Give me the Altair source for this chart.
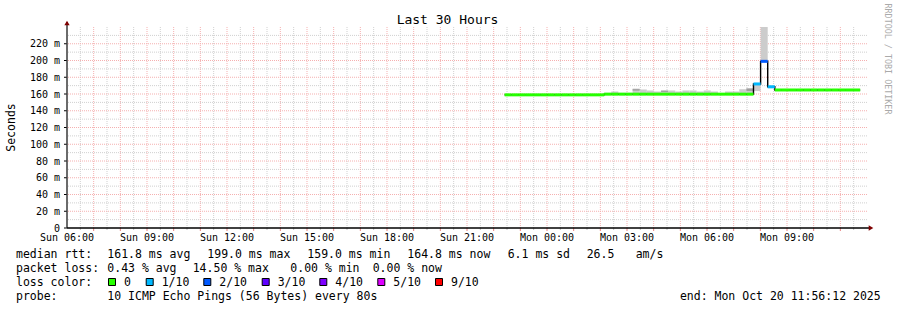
import altair as alt
import pandas as pd

# ---------------- values ----------------
START_H = 16.41            # start of first 16-minute interval (hours after Sun 06:00)
STEP_H = 960 / 3600        # consolidation step: 16 minutes

MEDIAN_MS = [
    159.0, 159.0, 159.0, 159.0, 159.0, 159.0, 159.0, 159.0, 159.0, 159.0,
    159.0, 159.0, 159.0, 159.0,
    159.8, 159.8, 159.8, 159.8, 159.8, 159.8, 159.8, 159.8, 159.8, 159.8,
    159.8, 159.8, 159.8, 159.8, 159.8, 159.8, 159.8, 159.8, 159.8, 159.8,
    159.8,
    172.0, 199.0, 168.6,
    164.8, 164.8, 164.8, 164.8, 164.8, 164.8, 164.8, 164.8, 164.8, 164.8,
    164.8, 164.8,
]
LOSS_IDX = [
    0, 0, 0, 0, 0, 0, 0, 0, 0, 0, 0, 0, 0, 0,
    0, 0, 0, 0, 0, 0, 0, 0, 0, 0, 0, 0, 0, 0, 0, 0, 0, 0, 0, 0, 0,
    1, 2, 1,
    0, 0, 0, 0, 0, 0, 0, 0, 0, 0, 0, 0,
]
SMOKE_LO = [
    158.5, 158.5, 158.5, 158.5, 158.5, 158.5, 158.5, 158.5, 158.5, 158.5,
    158.5, 158.5, 158.5, 158.5,
    159.0, 159.0, 159.0, 159.0, 159.0, 159.0, 159.0, 159.0, 159.0, 159.0,
    159.0, 159.0, 159.0, 159.0, 159.0, 159.0, 159.0, 159.0, 159.0, 159.0,
    159.0,
    163.5, 199.0, 167.0,
    164.0, 164.0, 164.0, 164.0, 164.0, 164.0, 164.0, 164.0, 164.0, 164.0,
    164.0, 164.0,
]
SMOKE_HI = [
    159.0, 159.0, 159.0, 159.0, 159.0, 159.0, 159.0, 159.0, 159.0, 159.0,
    159.0, 159.0, 159.0, 159.0,
    161.4, 163.0, 161.4, 161.4, 166.5, 165.4, 164.2, 163.0, 164.2, 164.2,
    163.0, 164.2, 164.2, 163.0, 164.2, 163.0, 160.5, 163.0, 163.0, 165.7,
    166.9,
    172.0, 250.0, 170.0,
    164.8, 164.8, 164.8, 164.8, 164.8, 164.8, 164.8, 164.8, 164.8, 164.8,
    164.8, 164.8,
]
# darker (denser) smoke band: interval index, low, high
DARK_IDX = [18, 22, 34]
DARK_LO = [164.0, 162.5, 163.5]
DARK_HI = [165.8, 164.0, 166.5]

LOSS_LABELS = ["0", "1/10", "2/10", "3/10", "4/10", "5/10", "9/10"]
LOSS_COLORS = ["#26ff00", "#00b8ff", "#0059ff", "#5e00ff", "#7e00ff", "#dd00ff", "#ff0000"]

TICK_HOURS = [0, 3, 6, 9, 12, 15, 18, 21, 24, 27]
TICK_LABELS = ["Sun 06:00", "Sun 09:00", "Sun 12:00", "Sun 15:00", "Sun 18:00",
               "Sun 21:00", "Mon 00:00", "Mon 03:00", "Mon 06:00", "Mon 09:00"]
Y_TICKS = [0, 20, 40, 60, 80, 100, 120, 140, 160, 180, 200, 220]
Y_LABELS = ["0\u00a0\u00a0", "20 m", "40 m", "60 m", "80 m", "100 m", "120 m",
            "140 m", "160 m", "180 m", "200 m", "220 m"]
Y_MINOR = [10, 30, 50, 70, 90, 110, 130, 150, 170, 190, 210, 230]
X_MAJOR = list(range(1, 30))
X_MINOR = [h + 0.5 for h in range(30)]

TITLE = "Last 30 Hours"
ROW1 = ["median rtt:", "161.8 ms avg", "199.0 ms max", "159.0 ms min",
        "164.8 ms now", "6.1 ms sd", "26.5", "am/s"]
ROW2 = ["packet loss:", "0.43 % avg", "14.50 % max", "0.00 % min", "0.00 % now"]
ROW3 = "loss color:"
ROW4 = ["probe:", "10 ICMP Echo Pings (56 Bytes) every 80s"]
END_TEXT = "end: Mon Oct 20 11:56:12 2025"
WATERMARK = "RRDTOOL / TOBI OETIKER"

# ---------------- layout (pixels) ----------------
W, H = 800, 201
PL, PT = 67, 27
ROW1_X = [16, 107.3, 207.3, 307.3, 407.3, 507.7, 586.7, 635.7]
ROW2_X = [16, 107.3, 192.7, 290.3, 372.7]
SQ_X = [108, 145.7, 203.3, 261.7, 319.3, 377.3, 435]
ROW_Y = [257.5, 271.5, 285.5, 299.5]
FONT = "DejaVu Sans Mono"
GRID_GRAY = "#d0d0d0"
GRID_RED = "#f5b0b0"

# ---------------- tables ----------------
n = len(MEDIAN_MS)
t0 = [START_H + k * STEP_H for k in range(n)]
t1 = [t + STEP_H for t in t0]
df = pd.DataFrame({
    "t0": t0, "t1": t1, "median": MEDIAN_MS,
    "lo": SMOKE_LO, "hi": SMOKE_HI,
    "color": [LOSS_COLORS[i] for i in LOSS_IDX],
})
dark = pd.DataFrame({
    "t0": [t0[i] for i in DARK_IDX], "t1": [t1[i] for i in DARK_IDX],
    "lo": DARK_LO, "hi": DARK_HI,
})
step = pd.DataFrame({"t": t0 + [t1[-1]], "median": MEDIAN_MS + [MEDIAN_MS[-1]]})
xlab = pd.DataFrame({"h": TICK_HOURS, "label": TICK_LABELS})
ylab = pd.DataFrame({"v": Y_TICKS, "label": Y_LABELS})

xs = alt.Scale(domain=[0, 30], nice=False, zero=False)
ys = alt.Scale(domain=[0, 240], nice=False, zero=False)

one = alt.Data(values=[{}])


def X(f):
    return alt.X(f, scale=xs, axis=None)


def Y(f):
    return alt.Y(f, scale=ys, axis=None)


def deco_text(s, x, y, size=11.5, align="left", baseline="alphabetic", angle=0, color="black"):
    return alt.Chart(one).mark_text(
        text=s, font=FONT, fontSize=size, align=align, baseline=baseline,
        angle=angle, color=color
    ).encode(x=alt.value(x - PL), y=alt.value(y - PT))


# grid
gmin_v = alt.Chart(pd.DataFrame({"h": X_MINOR})).mark_rule(
    color=GRID_GRAY, strokeDash=[1, 1], strokeWidth=1).encode(x=X("h:Q"))
gmin_h = alt.Chart(pd.DataFrame({"v": Y_MINOR})).mark_rule(
    color=GRID_GRAY, strokeDash=[1, 1], strokeWidth=1).encode(y=Y("v:Q"))
gmaj_v = alt.Chart(pd.DataFrame({"h": X_MAJOR})).mark_rule(
    color=GRID_RED, strokeDash=[1, 1], strokeWidth=1).encode(x=X("h:Q"))
gmaj_h = alt.Chart(pd.DataFrame({"v": Y_TICKS[1:]})).mark_rule(
    color=GRID_RED, strokeDash=[1, 1], strokeWidth=1).encode(y=Y("v:Q"))

# small ticks below x axis and left of y axis
tick_maj = alt.Chart(pd.DataFrame({"h": X_MAJOR})).mark_rule(color="#e88080").encode(
    x=X("h:Q"), y=alt.value(H), y2=alt.value(H + 3))
tick_min = alt.Chart(pd.DataFrame({"h": X_MINOR})).mark_rule(color="#c0c0c0").encode(
    x=X("h:Q"), y=alt.value(H), y2=alt.value(H + 2))
tick_y = alt.Chart(ylab).mark_rule(color="black").encode(
    y=Y("v:Q"), x=alt.value(-3), x2=alt.value(0))

# axis labels through the scales
xlabels = alt.Chart(xlab).mark_text(font=FONT, fontSize=10, align="center",
                                    baseline="alphabetic", color="black").encode(
    x=X("h:Q"), y=alt.value(241 - PT), text="label:N")
ylabels = alt.Chart(ylab).mark_text(font=FONT, fontSize=10, align="right",
                                    baseline="alphabetic", dy=3.6, color="black").encode(
    y=Y("v:Q"), x=alt.value(60 - PL), text="label:N")

# smoke
smoke = alt.Chart(df).mark_rect(color="#cccccc", clip=True).encode(
    x=X("t0:Q"), x2="t1:Q", y=Y("lo:Q"), y2="hi:Q")
smoke_dark = alt.Chart(dark).mark_rect(color="#9e9e9e", clip=True).encode(
    x=X("t0:Q"), x2="t1:Q", y=Y("lo:Q"), y2="hi:Q")

# median
med_line = alt.Chart(step).mark_line(interpolate="step-after", color="black", strokeWidth=1.4).encode(
    x=X("t:Q"), y=Y("median:Q"))
med_seg = alt.Chart(df).mark_rule(strokeWidth=3).encode(
    x=X("t0:Q"), x2="t1:Q", y=Y("median:Q"), color=alt.Color("color:N", scale=None))

# axis lines + arrows
y_line = alt.Chart(one).mark_rule(color="#3a3a3a", strokeWidth=1.5).encode(
    x=alt.value(0), y=alt.value(-5), y2=alt.value(H))
x_line = alt.Chart(one).mark_rule(color="black", strokeWidth=1.3).encode(
    x=alt.value(0), x2=alt.value(W + 2), y=alt.value(H))
y_arrow = alt.Chart(one).mark_point(shape="triangle-up", filled=True, size=28, color="#7f0000", opacity=1).encode(
    x=alt.value(0), y=alt.value(-4))
x_arrow = alt.Chart(one).mark_point(shape="triangle-right", filled=True, size=28, color="#7f0000", opacity=1).encode(
    x=alt.value(W + 4), y=alt.value(H))

layers = [gmin_v, gmin_h, gmaj_v, gmaj_h, tick_min, tick_maj, tick_y, smoke, smoke_dark,
          med_line, med_seg, y_line, x_line, y_arrow, x_arrow, xlabels, ylabels]

# texts
layers.append(deco_text(TITLE, 447.5, 24, size=13, align="center"))
layers.append(deco_text("Seconds", 11.5, 127.5, align="center", baseline="middle", angle=270))
layers.append(deco_text(WATERMARK, 888, 59, size=8.4, align="center", baseline="middle",
                        angle=90, color="#aaaaaa"))
for s, x in zip(ROW1, ROW1_X):
    layers.append(deco_text(s, x, ROW_Y[0]))
for s, x in zip(ROW2, ROW2_X):
    layers.append(deco_text(s, x, ROW_Y[1]))
layers.append(deco_text(ROW3, 16, ROW_Y[2]))
for lab, col, x in zip(LOSS_LABELS, LOSS_COLORS, SQ_X):
    layers.append(alt.Chart(one).mark_rect(color=col, stroke="black", strokeWidth=1).encode(
        x=alt.value(x + 0.5 - PL), x2=alt.value(x + 7.5 - PL),
        y=alt.value(278.5 - PT), y2=alt.value(285.5 - PT)))
    layers.append(deco_text(lab, x + 16, ROW_Y[2]))
layers.append(deco_text(ROW4[0], 16, ROW_Y[3]))
layers.append(deco_text(ROW4[1], 107.3, ROW_Y[3]))
layers.append(deco_text(END_TEXT, 880.7, ROW_Y[3], align="right"))

chart = alt.layer(*layers).properties(
    width=W, height=H,
    autosize=alt.AutoSizeParams(type="none"),
    padding={"left": PL, "top": PT, "right": 897 - PL - W, "bottom": 310 - PT - H},
    background="white",
).configure_view(strokeWidth=0)

chart.save("out.html", embed_options={"renderer": "svg", "actions": False})
